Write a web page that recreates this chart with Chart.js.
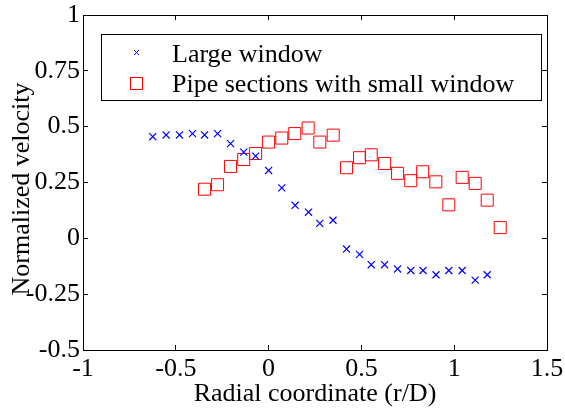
<!DOCTYPE html>
<html>
<head>
<meta charset="utf-8">
<script src="https://cdn.jsdelivr.net/npm/chart.js@4/dist/chart.umd.min.js"></script>
<style>
  html, body { margin: 0; padding: 0; background: #fff; }
  #box { width: 565px; height: 410px; position: relative; }
</style>
</head>
<body>
<div id="box"><canvas id="grafico"></canvas></div>
<script>
// data
const xLarge = [-0.624, -0.552, -0.48, -0.41, -0.345, -0.275, -0.205, -0.134, -0.07, 0.0, 0.071, 0.143, 0.215, 0.276, 0.347,
                0.42, 0.49, 0.553, 0.625, 0.695, 0.766, 0.832, 0.902, 0.971, 1.043, 1.113, 1.178];
const yLarge = [0.455, 0.463, 0.463, 0.469, 0.463, 0.469, 0.424, 0.386, 0.368, 0.304, 0.226, 0.148, 0.117, 0.067, 0.081,
                -0.048, -0.072, -0.118, -0.118, -0.137, -0.144, -0.144, -0.163, -0.144, -0.144, -0.187, -0.163];

const xPipe = [-0.345, -0.275, -0.205, -0.134, -0.07, 0.0, 0.071, 0.141, 0.213, 0.276, 0.348,
               0.42, 0.49, 0.553, 0.625, 0.695, 0.766, 0.83, 0.901, 0.971, 1.043, 1.113, 1.178, 1.248];
const yPipe = [0.220, 0.240, 0.322, 0.353, 0.380, 0.431, 0.449, 0.469, 0.494, 0.431, 0.462,
               0.316, 0.361, 0.374, 0.335, 0.291, 0.258, 0.298, 0.253, 0.150, 0.273, 0.246, 0.171, 0.048];

const xTicks = [-1, -0.5, 0, 0.5, 1, 1.5];
const yTicks = [-0.5, -0.25, 0, 0.25, 0.5, 0.75, 1];

const nomes = ['Large window', 'Pipe sections with small window'];

const fonte = { family: '"Liberation Serif", "Times New Roman", serif', size: 26 };

function pontos(xs, ys) {
    return xs.map((x, i) => ({ x: x, y: ys[i] }));
}

// legend drawn inside the axes like the original
const legendaCaixa = {
    id: 'legendaCaixa',
    afterDraw(chart) {
        const ctx = chart.ctx;
        ctx.save();
        ctx.strokeStyle = '#000';
        ctx.lineWidth = 1;
        ctx.strokeRect(101.5, 34.5, 440, 66);

        // cross
        ctx.strokeStyle = '#0000ff';
        ctx.beginPath();
        ctx.moveTo(134, 50); ctx.lineTo(139, 55);
        ctx.moveTo(139, 50); ctx.lineTo(134, 55);
        ctx.stroke();
        // square
        ctx.strokeStyle = '#ff0000';
        ctx.strokeRect(130.5, 77.5, 12, 12);

        ctx.fillStyle = '#000';
        ctx.font = fonte.size + 'px ' + fonte.family;
        ctx.textBaseline = 'alphabetic';
        ctx.fillText(nomes[0], 172, 62);
        ctx.fillText(nomes[1], 172, 92);
        ctx.restore();
    }
};

// fixed box sizes, no extra room for overhanging labels
function fixar(largura, altura) {
    return s => {
        if (largura !== null) s.width = largura;
        if (altura !== null) s.height = altura;
        s.paddingLeft = 0; s.paddingRight = 0;
        s.paddingTop = 0; s.paddingBottom = 0;
    };
}

const eixoY = {
    min: -0.5, max: 1,
    afterBuildTicks: s => { s.ticks = yTicks.map(v => ({ value: v })); },
};
const eixoX = {
    min: -1, max: 1.5,
    afterBuildTicks: s => { s.ticks = xTicks.map(v => ({ value: v })); },
};

new Chart(document.getElementById('grafico'), {
    type: 'scatter',
    data: {
        datasets: [
            {
                label: nomes[0],
                data: pontos(xLarge, yLarge),
                pointStyle: 'crossRot',
                pointRadius: 5,
                borderColor: '#0000ff',
                borderWidth: 1.2,
                xAxisID: 'x', yAxisID: 'y',
            },
            {
                label: nomes[1],
                data: pontos(xPipe, yPipe),
                pointStyle: 'rect',
                pointRadius: 8.5,
                borderColor: '#ff0000',
                backgroundColor: 'rgba(0,0,0,0)',
                borderWidth: 1,
                xAxisID: 'x', yAxisID: 'y',
            },
        ],
    },
    options: {
        responsive: true,
        maintainAspectRatio: false,
        animation: false,
        layout: { padding: { top: 15, right: 18, left: 0, bottom: 0 } },
        plugins: {
            legend: { display: false },
            tooltip: { enabled: false },
        },
        scales: {
            x: {
                type: 'linear', position: 'bottom', ...eixoX,
                grid: { drawOnChartArea: false, drawTicks: true, tickLength: -5, color: '#000' },
                border: { color: '#000', width: 1 },
                ticks: { color: '#000', font: fonte, padding: 9, maxRotation: 0, callback: v => String(v) },
                title: { display: true, text: 'Radial coordinate (r/D)', color: '#000', font: fonte, padding: { top: 0, bottom: 0 } },
                afterFit: fixar(null, 60),
            },
            y: {
                type: 'linear', position: 'left', ...eixoY,
                grid: { drawOnChartArea: false, drawTicks: true, tickLength: -5, color: '#000' },
                border: { color: '#000', width: 1 },
                ticks: { color: '#000', font: fonte, padding: 8, callback: v => String(v) },
                title: { display: true, text: 'Normalized velocity  ', color: '#000', font: fonte, padding: { top: 7, bottom: 0 } },
                afterFit: fixar(83, null),
            },
            xTopo: {
                type: 'linear', position: 'top', ...eixoX,
                grid: { drawOnChartArea: false, drawTicks: true, tickLength: -5, color: '#000' },
                border: { color: '#000', width: 1 },
                ticks: { display: false },
                afterFit: fixar(null, 0),
            },
            yDireita: {
                type: 'linear', position: 'right', ...eixoY,
                grid: { drawOnChartArea: false, drawTicks: true, tickLength: -5, color: '#000' },
                border: { color: '#000', width: 1 },
                ticks: { display: false },
                afterFit: fixar(0, null),
            },
        },
    },
    plugins: [legendaCaixa],
});
</script>
</body>
</html>
